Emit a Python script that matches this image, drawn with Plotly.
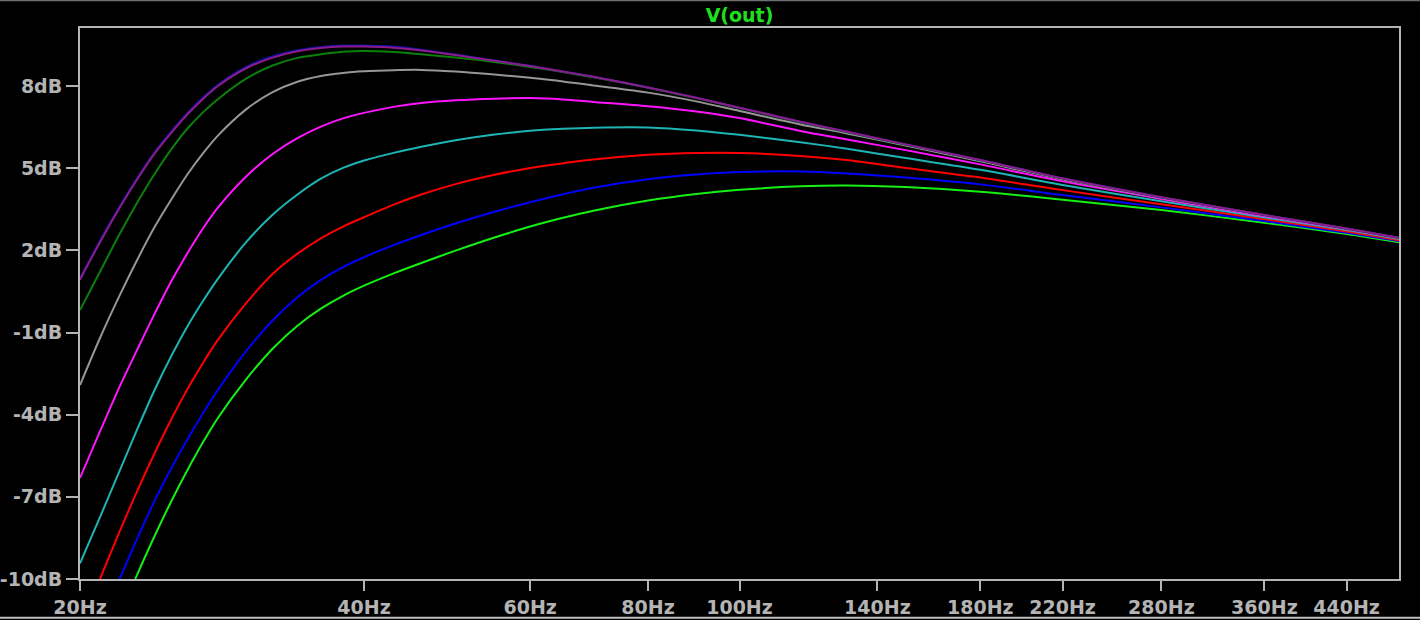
import math
import plotly.graph_objects as go

# Frequency grid (Hz) and response of each stepped trace (dB)
freq = [20, 21, 22, 23, 24, 25, 26, 27, 28, 30, 32, 34, 36, 38, 40, 43, 46, 50,
        55, 60, 65, 70, 80, 90, 100, 116, 130, 150, 180, 220, 280, 360, 440, 500]

green = [-14.88, -13.05, -11.37, -9.83, -8.42, -7.15, -6.02, -5.01, -4.12, -2.71, -1.59,
         -0.75, -0.13, 0.34, 0.71, 1.16, 1.54, 1.99, 2.47, 2.87, 3.19, 3.45, 3.82,
         4.06, 4.21, 4.34, 4.37, 4.31, 4.14, 3.85, 3.47, 3.01, 2.60, 2.30]
blue = [-13.5, -11.73, -10.05, -8.52, -7.14, -5.95, -4.90, -3.95, -3.10, -1.68, -0.56,
        0.29, 0.92, 1.39, 1.75, 2.19, 2.56, 2.98, 3.41, 3.76, 4.05, 4.29, 4.60,
        4.77, 4.86, 4.88, 4.81, 4.66, 4.41, 4.02, 3.57, 3.07, 2.64, 2.34]
red = [-11.8, -10.0, -8.32, -6.78, -5.40, -4.16, -3.06, -2.11, -1.27, 0.07, 1.14,
       1.88, 2.44, 2.87, 3.21, 3.67, 4.04, 4.42, 4.76, 5.01, 5.18, 5.32, 5.49,
       5.56, 5.56, 5.45, 5.30, 5.01, 4.66, 4.20, 3.68, 3.14, 2.69, 2.37]
teal = [-9.43, -7.74, -6.10, -4.53, -3.09, -1.85, -0.77, 0.15, 0.96, 2.30, 3.30,
        4.04, 4.62, 5.01, 5.28, 5.56, 5.78, 6.02, 6.23, 6.37, 6.44, 6.48, 6.49,
        6.38, 6.22, 5.95, 5.71, 5.37, 4.94, 4.39, 3.79, 3.20, 2.74, 2.41]
magenta = [-6.31, -4.61, -3.02, -1.62, -0.31, 0.88, 1.90, 2.80, 3.56, 4.70, 5.52,
           6.10, 6.52, 6.82, 7.02, 7.24, 7.38, 7.48, 7.54, 7.56, 7.51, 7.42, 7.26,
           7.07, 6.83, 6.36, 6.05, 5.66, 5.14, 4.52, 3.88, 3.25, 2.77, 2.44]
gray = [-2.92, -1.20, 0.31, 1.66, 2.86, 3.87, 4.78, 5.54, 6.19, 7.15, 7.78,
        8.16, 8.37, 8.48, 8.54, 8.58, 8.59, 8.53, 8.42, 8.30, 8.17, 8.02, 7.76,
        7.44, 7.09, 6.60, 6.27, 5.83, 5.25, 4.60, 3.92, 3.28, 2.79, 2.45]
darkgreen = [-0.18, 1.22, 2.56, 3.75, 4.80, 5.70, 6.45, 7.04, 7.52, 8.27, 8.75,
             9.03, 9.16, 9.25, 9.28, 9.24, 9.16, 9.04, 8.88, 8.70, 8.51, 8.32, 7.94,
             7.56, 7.20, 6.68, 6.31, 5.86, 5.29, 4.62, 3.93, 3.29, 2.79, 2.45]
navy = [0.98, 2.35, 3.57, 4.65, 5.59, 6.35, 7.02, 7.58, 8.05, 8.70, 9.09,
        9.31, 9.43, 9.48, 9.48, 9.44, 9.33, 9.15, 8.93, 8.74, 8.53, 8.34, 7.95,
        7.57, 7.21, 6.70, 6.33, 5.87, 5.30, 4.63, 3.94, 3.29, 2.80, 2.46]
purple = [0.93, 2.30, 3.52, 4.60, 5.54, 6.30, 6.97, 7.53, 8.00, 8.65, 9.04,
          9.27, 9.39, 9.44, 9.44, 9.40, 9.30, 9.13, 8.92, 8.73, 8.53, 8.34, 7.95,
          7.57, 7.21, 6.70, 6.33, 5.87, 5.30, 4.63, 3.94, 3.29, 2.80, 2.46]

x_ticks = [20, 40, 60, 80, 100, 140, 180, 220, 280, 360, 440]
y_ticks = [8, 5, 2, -1, -4, -7, -10]

traces = [
    (green, '#14f014'),
    (blue, '#0000ff'),
    (red, '#ff0000'),
    (teal, '#1eb4b4'),
    (magenta, '#ff14ff'),
    (gray, '#969696'),
    (darkgreen, '#0a800a'),
    (navy, '#1010a0'),
    (purple, '#8c1c8c'),
]

fig = go.Figure()
for vals, col in traces:
    fig.add_trace(go.Scatter(
        x=freq, y=vals, mode='lines',
        line=dict(color=col, width=2, shape='spline', smoothing=0.8),
        showlegend=False, hoverinfo='skip',
    ))

axis_col = '#b4b4b4'
tick_font = dict(family='DejaVu Sans', size=19, color=axis_col, weight='bold')

fig.update_layout(
    width=1420, height=620,
    paper_bgcolor='black', plot_bgcolor='black',
    margin=dict(l=80, r=21, t=28, b=41, autoexpand=False),
    title=dict(text='V(out)', x=0.5, xref='paper', y=1 - 15 / 620, yref='container',
               xanchor='center', yanchor='middle', automargin=False,
               font=dict(family='DejaVu Sans', size=19, color='#1ee01e', weight='bold')),
    xaxis=dict(
        type='log', range=[math.log10(20), math.log10(500)],
        tickvals=x_ticks, ticktext=[f'{v}Hz' for v in x_ticks],
        ticks='outside', ticklen=10, tickwidth=2, tickcolor=axis_col,
        tickfont=tick_font, showgrid=False, zeroline=False, automargin=False,
        showline=True, linecolor=axis_col, linewidth=2, mirror=True,
    ),
    yaxis=dict(
        range=[-10, 10.12],
        tickvals=y_ticks, ticktext=[f'{v}dB' for v in y_ticks],
        ticks='outside', ticklen=12, tickwidth=2, tickcolor=axis_col,
        tickfont=tick_font, showgrid=False, zeroline=False, automargin=False,
        showline=True, linecolor=axis_col, linewidth=2, mirror=True,
    ),
    shapes=[
        dict(type='line', xref='paper', yref='paper', x0=-0.07, x1=1.02,
             y0=1.0505, y1=1.0505, line=dict(color='#707070', width=2)),
        dict(type='line', xref='paper', yref='paper', x0=-0.07, x1=1.02,
             y0=-0.0705, y1=-0.0705, line=dict(color='#c0c0c0', width=2)),
    ],
)

# page has a default body margin; drop it so the figure sits at the window origin
page_js = ("document.body.style.margin='0';"
           "document.body.style.background='black';"
           "document.body.style.overflow='hidden';")
fig.write_html("out.html", post_script=page_js, config={'displayModeBar': False})
